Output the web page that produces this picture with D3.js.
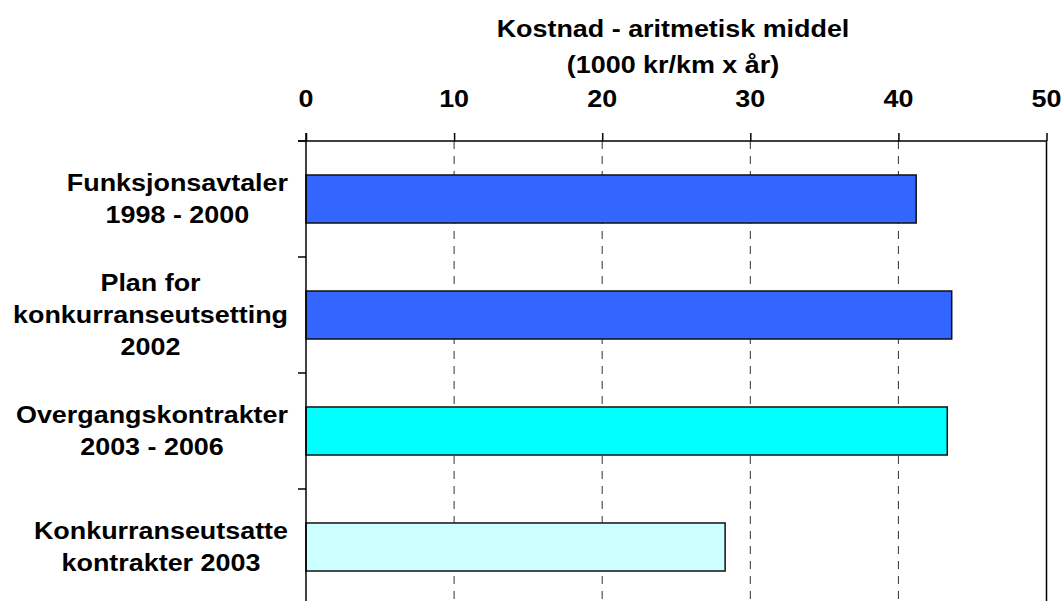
<!DOCTYPE html>
<html>
<head>
<meta charset="utf-8">
<script src="https://cdn.jsdelivr.net/npm/d3@7"></script>
<style>
  html, body { margin: 0; padding: 0; background: #fff; }
  svg { display: block; }
  text { font-family: "Liberation Sans", Arial, sans-serif; font-weight: bold; fill: #000; }
</style>
</head>
<body>
<svg id="chart" width="1063" height="601"></svg>
<script>
// Cost per km and year (1000 kr) by contract type
const categories = [
  ["Funksjonsavtaler", "1998 - 2000"],
  ["Plan for", "konkurranseutsetting", "2002"],
  ["Overgangskontrakter", "2003 - 2006"],
  ["Konkurranseutsatte", "kontrakter 2003"]
];
const values = [41.2, 43.6, 43.3, 28.3];
const barColors = ["#3366FF", "#3366FF", "#00FFFF", "#CCFFFF"];
const xTicks = [0, 10, 20, 30, 40, 50];
const titleLines = ["Kostnad - aritmetisk middel", "(1000 kr/km x år)"];

const svg = d3.select("#chart");
const stretch = 1.17;      // horizontal glyph stretch of all labels
const fontSize = 23;

const plotLeft = 306, plotRight = 1046.5, plotTop = 141, step = 116;
const x = d3.scaleLinear().domain([0, 50]).range([plotLeft, plotRight]);
const y = d3.scaleBand()
  .domain(d3.range(categories.length))
  .range([plotTop, plotTop + step * categories.length])
  .paddingInner(0.586)
  .paddingOuter(0.293);

function stretchedText(g, tx, ty, str, anchor) {
  return g.append("text")
    .attr("transform", `translate(${tx},${ty}) scale(${stretch},1)`)
    .attr("text-anchor", anchor || "middle")
    .style("font-size", fontSize + "px")
    .text(str);
}

// dashed gridlines
svg.append("g").selectAll("line")
  .data(xTicks.filter(t => t > 0 && t < 50))
  .join("line")
  .attr("x1", d => x(d)).attr("x2", d => x(d))
  .attr("y1", plotTop).attr("y2", 601)
  .attr("stroke", "#333").attr("stroke-width", 1)
  .attr("stroke-dasharray", "8,7");

// right frame line at max
svg.append("line")
  .attr("x1", x(50)).attr("x2", x(50))
  .attr("y1", plotTop).attr("y2", 601)
  .attr("stroke", "#000").attr("stroke-width", 1.5);

// bars
svg.append("g").selectAll("rect")
  .data(values)
  .join("rect")
  .attr("x", x(0))
  .attr("y", (d, i) => y(i))
  .attr("width", d => x(d) - x(0))
  .attr("height", y.bandwidth())
  .attr("fill", (d, i) => barColors[i])
  .attr("stroke", "#111")
  .attr("stroke-width", 1.5);

// top value axis
const xAxis = d3.axisTop(x).tickValues(xTicks).tickSize(8).tickFormat("");
const gx = svg.append("g").attr("transform", `translate(0,${plotTop})`).call(xAxis);
gx.select(".domain").remove();
gx.selectAll(".tick line").attr("stroke", "#000").attr("stroke-width", 1.5);
svg.append("line")
  .attr("x1", plotLeft - 8).attr("x2", plotRight)
  .attr("y1", plotTop).attr("y2", plotTop)
  .attr("stroke", "#000").attr("stroke-width", 1.5);

xTicks.forEach(t => stretchedText(svg, x(t), 107, String(t)));

// left category axis with boundary ticks
svg.append("line")
  .attr("x1", plotLeft).attr("x2", plotLeft)
  .attr("y1", plotTop - 8).attr("y2", 601)
  .attr("stroke", "#000").attr("stroke-width", 1.5);
svg.append("g").selectAll("line")
  .data(d3.range(categories.length + 1))
  .join("line")
  .attr("x1", plotLeft - 8).attr("x2", plotLeft)
  .attr("y1", d => plotTop + d * step).attr("y2", d => plotTop + d * step)
  .attr("stroke", "#000").attr("stroke-width", 1.5);

// category labels: wrapped lines, block right-aligned against the axis
const lineGap = 32;
categories.forEach((lines, i) => {
  const g = svg.append("g");
  const cy = y(i) + y.bandwidth() / 2;
  const firstBase = cy - (lines.length - 1) * lineGap / 2 + 8;
  const texts = lines.map((s, k) => stretchedText(g, 0, firstBase + k * lineGap, s));
  const w = d3.max(texts, t => t.node().getComputedTextLength()) * stretch;
  const cx = 288 - w / 2;
  texts.forEach((t, k) =>
    t.attr("transform", `translate(${cx},${firstBase + k * lineGap}) scale(${stretch},1)`));
});

// axis title
titleLines.forEach((s, k) => stretchedText(svg, 673, 37 + k * 36, s));
</script>
</body>
</html>
